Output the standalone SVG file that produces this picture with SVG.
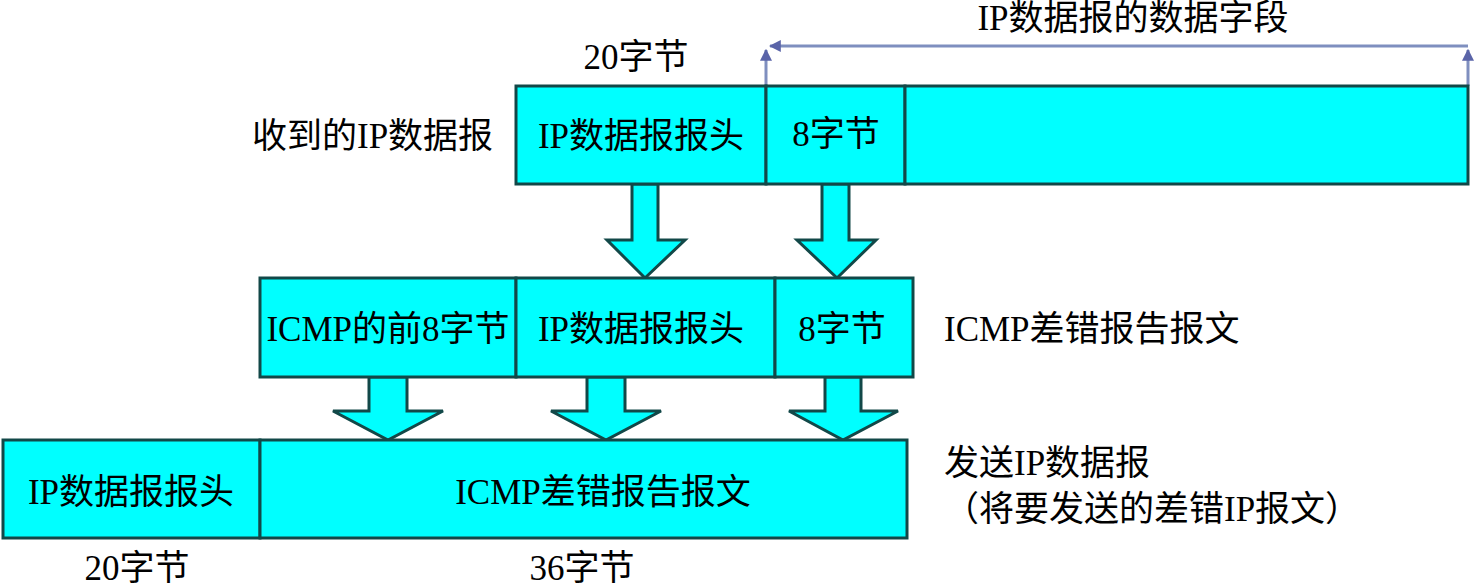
<svg xmlns="http://www.w3.org/2000/svg" width="1474" height="588" viewBox="0 0 1474 588">
<style>
.box{fill:#00ffff;stroke:#124848;stroke-width:3}
.arr{fill:#00ffff;stroke:#124848;stroke-width:3;stroke-linejoin:miter}
text{font-family:"Liberation Serif","Noto Sans CJK SC",serif;font-size:35px;fill:#000}
.c{text-anchor:middle}
.dim{fill:none;stroke:#7f8fbf;stroke-width:3}
</style>
<defs>
<marker id="ah" viewBox="0 0 10 10" refX="9" refY="5" markerWidth="4" markerHeight="4" orient="auto-start-reverse">
<path d="M0,0 L10,5 L0,10 z" fill="#5a64a8"/>
</marker>
</defs>
<rect width="1474" height="588" fill="#fff"/>
<g id="connectors">
<path class="dim" d="M766,86 V50" marker-end="url(#ah)"/>
<path class="dim" d="M1468,86 V50" marker-end="url(#ah)"/>
<path class="dim" d="M1468,46 H770" marker-end="url(#ah)"/>
<polygon class="arr" points="632,184 658,184 658,240 685,240 645,278 607,240 632,240"/>
<polygon class="arr" points="822,184 849,184 849,240 876,240 837,278 797,240 822,240"/>
<polygon class="arr" points="369,377 407,377 407,411 443,411 388,440 333,411 369,411"/>
<polygon class="arr" points="587,377 625,377 625,411 661,411 606,440 551,411 587,411"/>
<polygon class="arr" points="825,377 861,377 861,411 898,411 843,440 789,411 825,411"/>
</g>
<g id="row1">
<rect class="box" x="516" y="86" width="250" height="98"/>
<rect class="box" x="766" y="86" width="139" height="98"/>
<rect class="box" x="905" y="86" width="563" height="98"/>
<text class="c" x="641" y="148">IP数据报报头</text>
<text class="c" x="836" y="146">8字节</text>
</g>
<g id="row2">
<rect class="box" x="260" y="278" width="256" height="99"/>
<rect class="box" x="516" y="278" width="259" height="99"/>
<rect class="box" x="775" y="278" width="138" height="99"/>
<text class="c" x="388" y="341">ICMP的前8字节</text>
<text class="c" x="641" y="341">IP数据报报头</text>
<text class="c" x="842" y="341">8字节</text>
</g>
<g id="row3">
<rect class="box" x="3" y="440" width="257" height="98"/>
<rect class="box" x="260" y="440" width="647" height="98"/>
<text class="c" x="131" y="504">IP数据报报头</text>
<text class="c" x="603" y="504">ICMP差错报告报文</text>
</g>
<g id="labels">
<text class="c" x="1133" y="30">IP数据报的数据字段</text>
<text class="c" x="636" y="69">20字节</text>
<text x="252" y="148">收到的IP数据报</text>
<text x="944" y="341">ICMP差错报告报文</text>
<text x="944" y="475">发送IP数据报</text>
<text x="944" y="521">（将要发送的差错IP报文）</text>
<text class="c" x="137" y="580" font-size="34">20字节</text>
<text class="c" x="582" y="580" font-size="34">36字节</text>
</g>
</svg>
